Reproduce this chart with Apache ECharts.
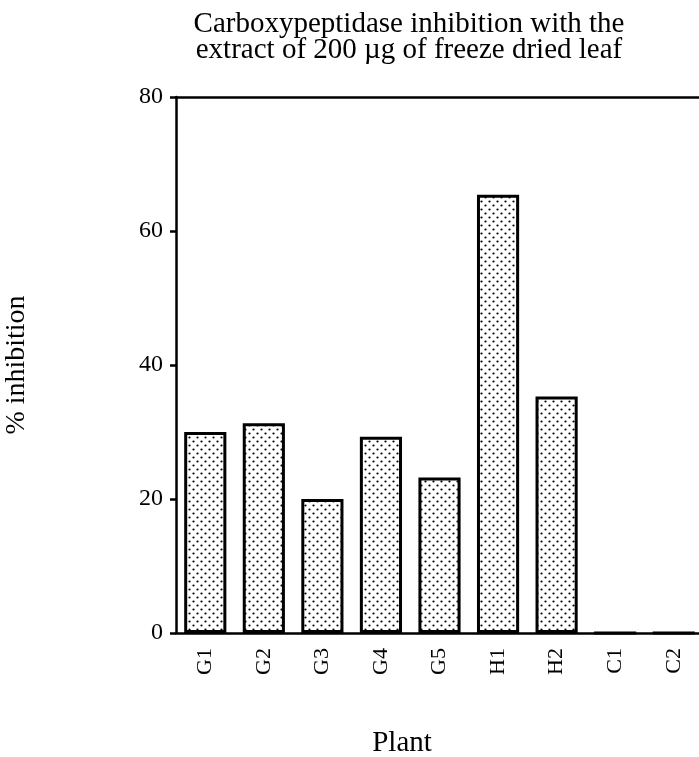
<!DOCTYPE html>
<html>
<head>
<meta charset="utf-8">
<script src="https://cdn.jsdelivr.net/npm/echarts@6/dist/echarts.min.js"></script>
<style>
  html, body { margin: 0; padding: 0; background: #fff; }
  #chart { width: 699px; height: 757px; }
</style>
</head>
<body>
<div id="chart"></div>
<script>
// data
var plants = ['G1', 'G2', 'G3', 'G4', 'G5', 'H1', 'H2', 'C1', 'C2'];
var inhibition = [30.0, 31.3, 20.0, 29.3, 23.2, 65.4, 35.3, 0, 0];
var yTicks = [0, 20, 40, 60, 80];

// stippled fill like the printed figure
function dotPattern() {
  var c = document.createElement('canvas');
  c.width = 8; c.height = 8;
  var ctx = c.getContext('2d');
  ctx.fillStyle = '#fff';
  ctx.fillRect(0, 0, 8, 8);
  ctx.fillStyle = '#000';
  ctx.beginPath(); ctx.arc(1.5, 1.5, 1.1, 0, Math.PI * 2); ctx.fill();
  ctx.beginPath(); ctx.arc(5.5, 5.5, 1.1, 0, Math.PI * 2); ctx.fill();
  return c;
}

var font = '"Liberation Serif", "DejaVu Serif", serif';
var myChart = echarts.init(document.getElementById('chart'));

var option = {
  backgroundColor: '#fff',
  animation: false,
  title: [
    {
      text: 'Carboxypeptidase inhibition with the\nextract of 200 \u00b5g of freeze dried leaf',
      left: 404,
      textAlign: 'center',
      top: 6,
      textStyle: { fontFamily: font, fontSize: 29, fontWeight: 'normal', color: '#000', lineHeight: 26 }
    },
    {
      text: 'Plant',
      left: 397,
      textAlign: 'center',
      top: 724,
      textStyle: { fontFamily: font, fontSize: 29, fontWeight: 'normal', color: '#000' }
    }
  ],
  grid: { left: 176, top: 97, width: 527, bottom: 124, outerBoundsMode: 'none' },
  xAxis: [
    {
      type: 'category',
      data: plants,
      axisLine: { lineStyle: { color: '#000', width: 2.5 } },
      axisTick: { alignWithLabel: true, length: 12, lineStyle: { color: '#000', width: 2.5 } },
      axisLabel: { rotate: 90, margin: 15, fontFamily: font, fontSize: 22, color: '#000' }
    },
    {
      type: 'category',
      position: 'top',
      data: plants,
      axisLine: { lineStyle: { color: '#000', width: 2.5 } },
      axisTick: { show: false },
      axisLabel: { show: false }
    }
  ],
  yAxis: {
    type: 'value',
    min: yTicks[0],
    max: yTicks[yTicks.length - 1],
    interval: 20,
    name: '% inhibition',
    nameLocation: 'middle',
    nameGap: 145,
    nameTextStyle: { fontFamily: font, fontSize: 28, color: '#000' },
    axisLine: { show: true, lineStyle: { color: '#000', width: 2.5 } },
    axisTick: { show: true, length: 6, lineStyle: { color: '#000', width: 2.5 } },
    axisLabel: { margin: 13, fontFamily: font, fontSize: 24, color: '#000' },
    splitLine: { show: false }
  },
  series: [
    {
      name: '% inhibition',
      type: 'bar',
      data: inhibition,
      barCategoryGap: '28%',
      itemStyle: {
        color: { image: dotPattern(), repeat: 'repeat' },
        borderColor: '#000',
        borderWidth: 3
      }
    }
  ]
};
myChart.setOption(option);
</script>
</body>
</html>
